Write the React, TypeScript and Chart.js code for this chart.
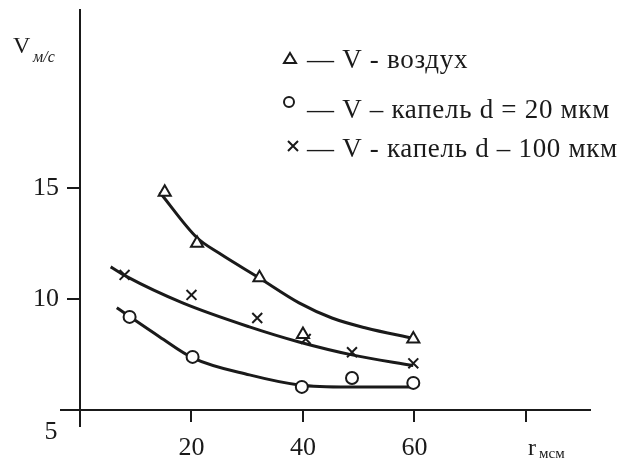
import React, { useEffect, useRef } from "react";
import { Chart, registerables } from "chart.js";

Chart.register(...registerables);

// Fitted curves
const airCurveX = [14.3, 21, 25, 32.1, 39.3, 45.2, 51.3, 59.8];
const airCurveY = [14.8, 12.75, 12.05, 10.95, 9.82, 9.14, 8.69, 8.22];
const d100CurveX = [5.5, 8.4, 18.4, 30.4, 39.3, 48.8, 59.8];
const d100CurveY = [11.44, 11.0, 9.82, 8.74, 8.06, 7.48, 7.0];
const d20CurveX = [6.6, 14.3, 20.2, 30.4, 39.3, 48.2, 59.8];
const d20CurveY = [9.6, 8.29, 7.35, 6.58, 6.13, 6.04, 6.04];

// Measured points
const airPointsX = [15.2, 21, 32.2, 40, 59.8];
const airPointsY = [14.8, 12.5, 10.95, 8.4, 8.2];
const d100PointsX = [8, 20, 31.8, 40.5, 48.8, 59.8];
const d100PointsY = [11.08, 10.18, 9.14, 8.2, 7.6, 7.1];
const d20PointsX = [8.9, 20.2, 39.8, 48.8, 59.8];
const d20PointsY = [9.19, 7.39, 6.04, 6.44, 6.22];

// Axes
const xTicks = [0, 20, 40, 60, 80];
const xTickLabels = ["", "20", "40", "60", ""];
const yTicks = [5, 10, 15];
const yTickLabels = ["", "10", "15"];
const originLabel = "5";
const yTitle = "V";
const yTitleSub = "м/с";
const xTitle = "r";
const xTitleSub = "мсм";

const legendLabels = [
  "— V - воздух",
  "— V – капель d = 20 мкм",
  "— V - капель d – 100 мкм",
];

const INK = "#1a1a1a";
const SERIF = "'Liberation Serif', 'DejaVu Serif', serif";

const zip = (xs: number[], ys: number[]) => xs.map((x, i) => ({ x, y: ys[i] }));

const extrasPlugin = {
  id: "extras",
  afterDraw(chart: any) {
    const ctx = chart.ctx as CanvasRenderingContext2D;
    const xs = chart.scales.x;
    const ys = chart.scales.y;
    const x0 = xs.getPixelForValue(0);
    const y0 = ys.getPixelForValue(5);
    ctx.save();
    ctx.strokeStyle = INK;
    ctx.fillStyle = INK;
    ctx.lineWidth = 2;
    // axis extensions
    ctx.beginPath();
    ctx.moveTo(x0, y0);
    ctx.lineTo(x0, y0 + 17);
    ctx.moveTo(x0 - 20, y0);
    ctx.lineTo(x0, y0);
    ctx.stroke();

    // origin label
    ctx.font = `26px ${SERIF}`;
    ctx.textAlign = "center";
    ctx.textBaseline = "alphabetic";
    ctx.fillText(originLabel, x0 - 29, y0 + 29);

    // y title
    ctx.textAlign = "left";
    ctx.font = `24px ${SERIF}`;
    ctx.fillText(yTitle, 13, 53);
    ctx.font = `italic 16px ${SERIF}`;
    ctx.fillText(yTitleSub, 33, 62);

    // x title
    ctx.font = `24px ${SERIF}`;
    ctx.fillText(xTitle, 528, 455);
    ctx.font = `15px ${SERIF}`;
    ctx.fillText(xTitleSub, 539, 458);

    // legend
    const baselines = [68, 118, 157];
    ctx.font = `27px ${SERIF}`;
    (ctx as any).letterSpacing = "0.7px";
    legendLabels.forEach((t, i) => {
      ctx.fillText(t, 307, baselines[i]);
    });
    (ctx as any).letterSpacing = "0px";
    ctx.lineWidth = 2;
    // triangle
    ctx.beginPath();
    ctx.moveTo(290, 53);
    ctx.lineTo(296, 63);
    ctx.lineTo(284, 63);
    ctx.closePath();
    ctx.stroke();
    // circle
    ctx.beginPath();
    ctx.arc(289, 102, 5, 0, Math.PI * 2);
    ctx.stroke();
    // cross
    ctx.beginPath();
    ctx.moveTo(288, 141);
    ctx.lineTo(298, 151);
    ctx.moveTo(298, 141);
    ctx.lineTo(288, 151);
    ctx.stroke();
    ctx.restore();
  },
};

export default function App() {
  const ref = useRef<HTMLCanvasElement | null>(null);
  useEffect(() => {
    if (!ref.current) return;
    const lineStyle = {
      type: "line" as const,
      showLine: true,
      borderColor: INK,
      borderWidth: 3,
      pointRadius: 0,
      cubicInterpolationMode: "monotone" as const,
      fill: false,
      order: 2,
    };
    const pointStyleBase = {
      type: "scatter" as const,
      showLine: false,
      borderColor: INK,
      backgroundColor: "#ffffff",
      borderWidth: 2,
      order: 1,
    };
    const chart = new Chart(ref.current, {
      type: "scatter",
      data: {
        datasets: [
          { ...lineStyle, label: "air fit", data: zip(airCurveX, airCurveY) },
          { ...lineStyle, label: "d100 fit", data: zip(d100CurveX, d100CurveY) },
          { ...lineStyle, label: "d20 fit", data: zip(d20CurveX, d20CurveY) },
          { ...pointStyleBase, label: "air", data: zip(airPointsX, airPointsY), pointStyle: "triangle", pointRadius: 7 },
          { ...pointStyleBase, label: "d100", data: zip(d100PointsX, d100PointsY), pointStyle: "crossRot", pointRadius: 7 },
          { ...pointStyleBase, label: "d20", data: zip(d20PointsX, d20PointsY), pointStyle: "circle", pointRadius: 6 },
        ] as any,
      },
      options: {
        animation: false,
        responsive: false,
        layout: { padding: { top: 10, right: 33, left: 0, bottom: 0 } },
        plugins: { legend: { display: false }, tooltip: { enabled: false } },
        scales: {
          x: {
            type: "linear",
            min: 0,
            max: 91.5,
            afterBuildTicks: (s: any) => {
              s.ticks = xTicks.map((v) => ({ value: v }));
            },
            afterFit: (s: any) => {
              s.height = 54;
              s.paddingLeft = 0;
              s.paddingRight = 0;
            },
            ticks: {
              color: INK,
              font: { family: SERIF, size: 26 },
              padding: 11,
              maxRotation: 0,
              callback: (v: any) => xTickLabels[xTicks.indexOf(Number(v))] ?? "",
            },
            grid: { drawOnChartArea: false, drawTicks: true, tickLength: 12, color: INK, lineWidth: 2 },
            border: { display: true, color: INK, width: 2 },
          },
          y: {
            type: "linear",
            min: 5,
            max: 23,
            afterBuildTicks: (s: any) => {
              s.ticks = yTicks.map((v) => ({ value: v }));
            },
            afterFit: (s: any) => {
              s.width = 80;
              s.paddingTop = 0;
              s.paddingBottom = 0;
            },
            ticks: {
              color: INK,
              font: { family: SERIF, size: 26 },
              padding: 8,
              callback: (v: any) => yTickLabels[yTicks.indexOf(Number(v))] ?? "",
            },
            grid: { drawOnChartArea: false, drawTicks: true, tickLength: 13, color: INK, lineWidth: 2 },
            border: { display: true, color: INK, width: 2 },
          },
        },
      },
      plugins: [extrasPlugin],
    });
    return () => chart.destroy();
  }, []);
  return (
    <div style={{ position: "absolute", left: 0, top: 0, width: 623, height: 464, background: "#fff" }}>
      <canvas ref={ref} width={623} height={464} style={{ display: "block" }} />
    </div>
  );
}
